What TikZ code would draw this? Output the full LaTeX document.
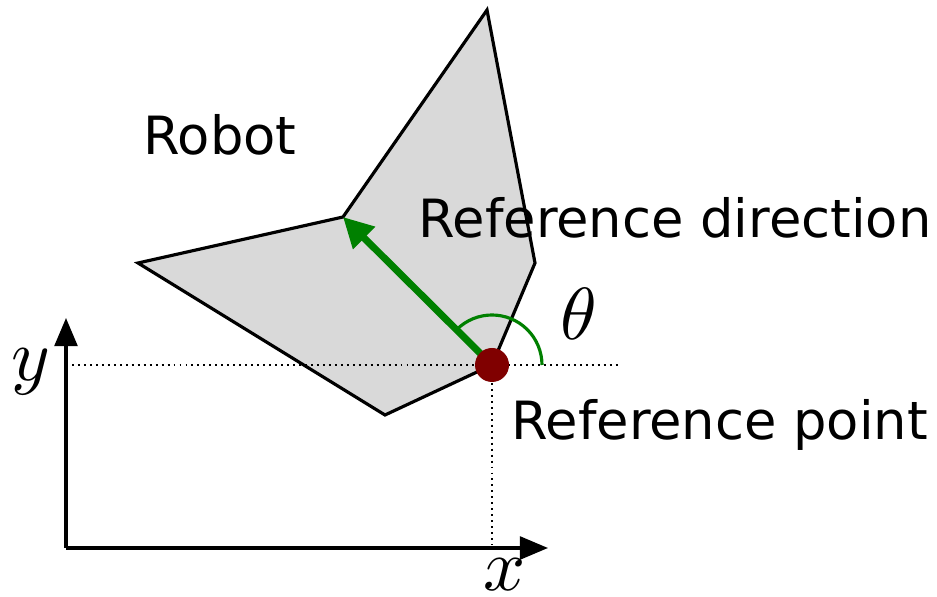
\documentclass[tikz,border=0pt]{standalone}
\usepackage{fontspec}
\setmainfont{DejaVu Sans}
\usepackage{unicode-math}
\setmathfont{Latin Modern Math}
\usetikzlibrary{arrows.meta}
\definecolor{robotgray}{RGB}{217,217,217}
\definecolor{dirgreen}{RGB}{0,128,0}
\definecolor{refred}{RGB}{128,0,0}
\tikzset{
  axisline/.style={line width=1.8pt,-{Triangle[length=16pt,width=13pt]}},
  guide/.style={line width=1.1pt,dash pattern=on 1.1pt off 2.3pt},
  lbl/.style={font=\fontsize{30}{33}\selectfont,inner sep=0pt},
  mathlbl/.style={font=\fontsize{42}{44}\selectfont,inner sep=0pt},
}
\begin{document}
\begin{tikzpicture}[x=0.02cm,y=-0.02cm]
\useasboundingbox (0,0) rectangle (937,597);
% coordinates
\coordinate (top) at (487,10);
\coordinate (right) at (535,263);
\coordinate (ref) at (492,365);
\coordinate (bottom) at (385,415);
\coordinate (left) at (138,263);
\coordinate (notch) at (343,217);
\coordinate (origin) at (66,548);
\coordinate (yend) at (66,318);
\coordinate (xend) at (548,548);
\coordinate (hstart) at (72,365);
\coordinate (hend) at (620,365);
\coordinate (vfoot) at (492,545);
% robot
\draw[line width=1.8pt,fill=robotgray,line join=miter] (top) -- (right) -- (ref) -- (bottom) -- (left) -- (notch) -- cycle;
% guides
\draw[guide] (hstart) -- (hend);
\draw[guide] (ref) -- (vfoot);
% axes
\draw[axisline] (origin) -- (yend);
\draw[axisline] (origin) -- (xend);
% direction
\draw[line width=4pt,dirgreen,-{Triangle[length=17pt,width=17pt]}] (ref) -- (notch);
\draw[line width=1.8pt,dirgreen] ([shift={(-135:50)}]ref) arc[start angle=-135,end angle=0,radius=50];
% ref point
\fill[refred] (ref) circle[radius=17];
% labels
\node[lbl] (robot) at (220,135) {Robot};
\node[lbl,anchor=west] (refdir) at (418,218) {Reference direction};
\node[lbl,anchor=west] (refpt) at (511,425) {Reference point};
\node[mathlbl] (theta) at (578,314) {$\theta$};
\node[mathlbl] (ylab) at (31,372) {$y$};
\node[mathlbl] (xlab) at (505,575) {$x$};
\end{tikzpicture}
\end{document}
